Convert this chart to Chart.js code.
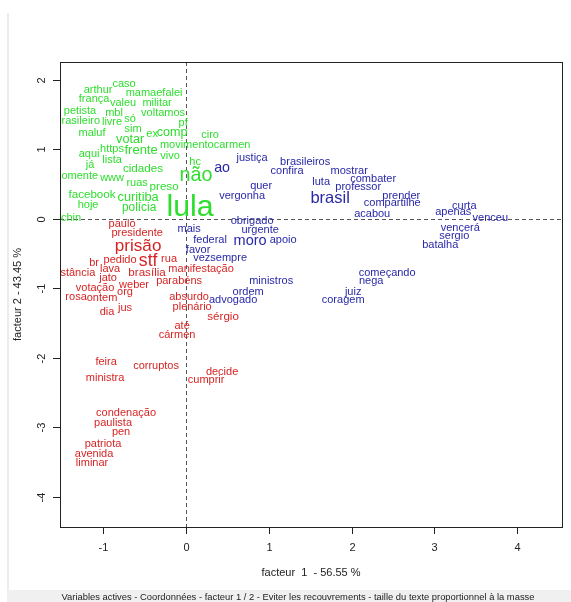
<!DOCTYPE html>
<html>
<head>
<meta charset="utf-8">
<script src="https://cdn.jsdelivr.net/npm/chart.js@4.4.1/dist/chart.umd.min.js"></script>
<style>
  html, body { margin: 0; padding: 0; background: #fff; overflow: hidden; }
  canvas { display: block; }
</style>
</head>
<body>
<canvas id="afc" width="571" height="602"></canvas>
<script>
// AFC (Iramuteq) - facteur 1 / 2, words placed at their coordinates,
// text size proportional to the mass of the form.

const classe1Mots = ["caso", "arthur", "mamaefalei", "frança", "valeu", "militar", "petista", "mbl", "voltamos",
  "brasileiro", "livre", "só", "pf", "maluf", "sim", "ex", "comp", "ciro", "votar", "movimentocarmen",
  "aqui", "https", "frente", "vivo", "lista", "já", "hc", "cidades", "não", "somente", "www", "ruas",
  "preso", "facebook", "curitiba", "hoje", "polícia", "lula", "echin"];
const classe1X = [-0.750, -1.064, -0.387, -1.112, -0.762, -0.351, -1.282, -0.871, -0.278,
  -1.309, -0.895, -0.677, -0.036, -1.137, -0.641, -0.411, -0.169, 0.290, -0.677, 0.230,
  -1.173, -0.895, -0.544, -0.193, -0.895, -1.161, 0.109, -0.520, 0.121, -1.318, -0.895, -0.592,
  -0.266, -1.137, -0.580, -1.185, -0.568, 0.048, -1.427];
const classe1Y = [1.945, 1.859, 1.816, 1.729, 1.671, 1.671, 1.556, 1.527, 1.527,
  1.412, 1.398, 1.441, 1.383, 1.239, 1.297, 1.225, 1.239, 1.210, 1.138, 1.066,
  0.937, 1.009, 0.980, 0.908, 0.850, 0.778, 0.821, 0.720, 0.620, 0.620, 0.591, 0.519,
  0.461, 0.346, 0.303, 0.202, 0.159, 0.159, 0.014];

const classe2Mots = ["ao", "justiça", "brasileiros", "confira", "mostrar", "quer", "luta", "professor", "combater",
  "vergonha", "brasil", "prender", "compartilhe", "acabou", "curta", "apenas", "venceu", "vencerá",
  "sergio", "batalha", "obrigado", "urgente", "mais", "federal", "moro", "apoio", "favor", "vezsempre",
  "ministros", "ordem", "advogado", "começando", "nega", "juiz", "coragem"];
const classe2X = [0.435, 0.798, 1.439, 1.221, 1.971, 0.907, 1.632, 2.080, 2.261,
  0.677, 1.741, 2.600, 2.491, 2.249, 3.362, 3.229, 3.676, 3.313,
  3.241, 3.071, 0.798, 0.895, 0.036, 0.290, 0.774, 1.173, 0.145, 0.411,
  1.028, 0.750, 0.568, 2.430, 2.237, 2.019, 1.898];
const classe2Y = [0.735, 0.879, 0.821, 0.692, 0.692, 0.476, 0.533, 0.461, 0.576,
  0.331, 0.288, 0.331, 0.231, 0.072, 0.187, 0.101, 0.014, -0.130,
  -0.245, -0.375, -0.029, -0.159, -0.144, -0.303, -0.317, -0.303, -0.447, -0.562,
  -0.893, -1.052, -1.167, -0.778, -0.893, -1.052, -1.167];

const classe3Mots = ["paulo", "presidente", "prisão", "pedido", "stf", "rua", "br", "lava", "instância", "jato",
  "brasília", "manifestação", "votação", "weber", "parabéns", "org", "rosa", "ontem", "absurdo", "dia",
  "jus", "plenário", "sérgio", "até", "cármen", "feira", "corruptos", "ministra", "decide", "cumprir",
  "condenação", "paulista", "pen", "patriota", "avenida", "liminar"];
const classe3X = [-0.774, -0.592, -0.580, -0.798, -0.459, -0.206, -1.112, -0.919, -1.360, -0.943,
  -0.472, 0.181, -1.100, -0.629, -0.085, -0.738, -1.330, -1.016, 0.036, -0.955,
  -0.738, 0.073, 0.447, -0.048, -0.109, -0.967, -0.363, -0.979, 0.435, 0.242,
  -0.726, -0.883, -0.786, -1.004, -1.112, -1.137];
const classe3Y = [-0.072, -0.202, -0.389, -0.591, -0.605, -0.576, -0.634, -0.720, -0.778, -0.850,
  -0.778, -0.720, -0.994, -0.951, -0.893, -1.052, -1.124, -1.138, -1.124, -1.340,
  -1.282, -1.268, -1.412, -1.542, -1.671, -2.061, -2.118, -2.291, -2.205, -2.320,
  -2.795, -2.939, -3.069, -3.242, -3.386, -3.516];

// relative mass (1 = smallest forms)
const masse = {
  lula: 2.75, "não": 1.8, comp: 1.15, votar: 1.15, frente: 1.18, curitiba: 1.16,
  cidades: 1.06, "polícia": 1.08, preso: 1.05, facebook: 1.05,
  brasil: 1.5, ao: 1.3, moro: 1.32, "prisão": 1.55, stf: 1.6, "sérgio": 1.05, "brasília": 1.05
};

const xTicks = [-1, 0, 1, 2, 3, 4];
const yTicks = [-4, -3, -2, -1, 0, 1, 2];
const xTitre = "facteur  1  - 56.55 %";
const yTitre = "facteur 2 - 43.45 %";
const legende = "Variables actives - Coordonnées - facteur 1 / 2 - Eviter les recouvrements - taille du texte proportionnel à la masse";

const FONT = '"Liberation Sans", Arial, sans-serif';

function points(mots, xs, ys) {
  return mots.map((m, i) => ({ x: xs[i], y: ys[i], mot: m, m: masse[m] || 1 }));
}

const motsPlugin = {
  id: "mots",
  afterDatasetsDraw(chart) {
    const { ctx, chartArea: a, scales: { x, y } } = chart;
    ctx.save();
    ctx.beginPath();
    ctx.rect(a.left, a.top, a.right - a.left, a.bottom - a.top);
    ctx.clip();
    ctx.textAlign = "center";
    ctx.textBaseline = "middle";
    chart.data.datasets.forEach(ds => {
      ctx.fillStyle = ds.couleur;
      ds.data.forEach(p => {
        ctx.font = `${(11 * p.m).toFixed(1)}px ${FONT}`;
        ctx.fillText(p.mot, x.getPixelForValue(p.x), y.getPixelForValue(p.y));
      });
    });
    ctx.restore();
  }
};

const cadrePlugin = {
  id: "cadre",
  beforeDraw(chart) {
    const { ctx, width, height } = chart;
    ctx.save();
    ctx.fillStyle = "#fff";
    ctx.fillRect(0, 0, width, height);
    ctx.fillStyle = "#ececec";
    ctx.fillRect(7, 13, 2, 577);
    ctx.fillStyle = "#f0f0f0";
    ctx.fillRect(7, 590, width - 7, height - 590);
    ctx.fillStyle = "#222";
    ctx.font = `9.4px ${FONT}`;
    ctx.textAlign = "center";
    ctx.textBaseline = "middle";
    ctx.fillText(legende, 298, 597);
    ctx.restore();
  },
  beforeDatasetsDraw(chart) {
    const { ctx, chartArea: a, scales: { x, y } } = chart;
    ctx.save();
    ctx.strokeStyle = "#555";
    ctx.lineWidth = 1;
    ctx.setLineDash([4, 3]);
    const x0 = Math.round(x.getPixelForValue(0)) + 0.5;
    const y0 = Math.round(y.getPixelForValue(0)) + 0.5;
    ctx.beginPath();
    ctx.moveTo(x0, a.top); ctx.lineTo(x0, a.bottom);
    ctx.moveTo(a.left, y0); ctx.lineTo(a.right, y0);
    ctx.stroke();
    ctx.restore();
  },
  afterDraw(chart) {
    const { ctx, chartArea: a, scales: { x, y } } = chart;
    ctx.save();
    ctx.strokeStyle = "#222";
    ctx.lineWidth = 1;
    ctx.strokeRect(Math.round(a.left) + 0.5, Math.round(a.top) + 0.5,
      Math.round(a.right - a.left), Math.round(a.bottom - a.top));
    ctx.fillStyle = "#222";
    ctx.font = `11px ${FONT}`;
    ctx.textAlign = "center";
    ctx.textBaseline = "middle";
    ctx.beginPath();
    xTicks.forEach(v => {
      const px = Math.round(x.getPixelForValue(v)) + 0.5;
      ctx.moveTo(px, a.bottom); ctx.lineTo(px, a.bottom + 7);
      ctx.fillText(String(v), px, a.bottom + 21);
    });
    yTicks.forEach(v => {
      const py = Math.round(y.getPixelForValue(v)) + 0.5;
      ctx.moveTo(a.left, py); ctx.lineTo(a.left - 7, py);
      ctx.save();
      ctx.translate(a.left - 18, py);
      ctx.rotate(-Math.PI / 2);
      ctx.fillText(String(v), 0, 0);
      ctx.restore();
    });
    ctx.stroke();
    ctx.fillText(xTitre, (a.left + a.right) / 2, a.bottom + 46);
    ctx.translate(a.left - 42, (a.top + a.bottom) / 2);
    ctx.rotate(-Math.PI / 2);
    ctx.fillText(yTitre, 0, 0);
    ctx.restore();
  }
};

new Chart(document.getElementById("afc"), {
  type: "scatter",
  data: {
    datasets: [
      { label: "classe 1", couleur: "rgb(45,222,45)", data: points(classe1Mots, classe1X, classe1Y) },
      { label: "classe 2", couleur: "rgb(40,40,168)", data: points(classe2Mots, classe2X, classe2Y) },
      { label: "classe 3", couleur: "rgb(214,36,36)", data: points(classe3Mots, classe3X, classe3Y) },
    ],
  },
  options: {
    responsive: false,
    animation: false,
    events: [],
    layout: { padding: { left: 60, top: 62, right: 9, bottom: 75 } },
    elements: { point: { radius: 0, hoverRadius: 0 } },
    plugins: { legend: { display: false }, tooltip: { enabled: false } },
    scales: {
      x: { type: "linear", display: false, min: -1.524, max: 4.543 },
      y: { type: "linear", display: false, min: -4.438, max: 2.258 },
    },
  },
  plugins: [cadrePlugin, motsPlugin],
});
</script>
</body>
</html>
